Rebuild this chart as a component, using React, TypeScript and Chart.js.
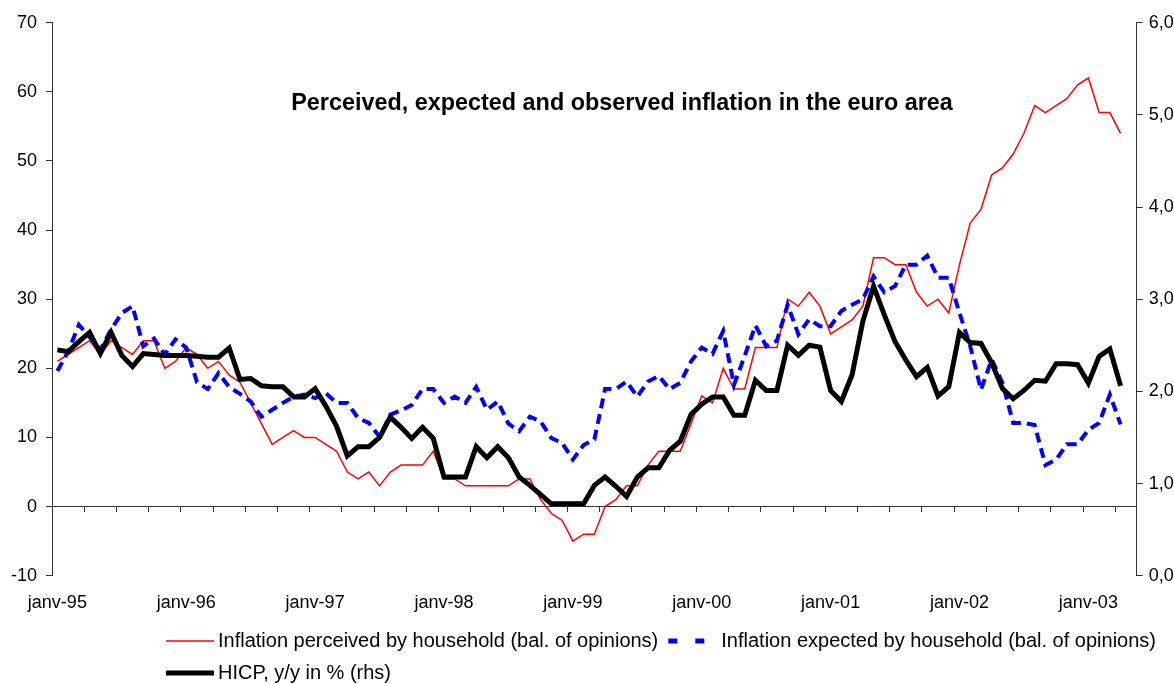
import React, { useEffect, useRef } from 'react';
import { Chart, registerables } from 'chart.js';

Chart.register(...registerables);

const MONTHS = ['janv', 'févr', 'mars', 'avr', 'mai', 'juin', 'juil', 'août', 'sept', 'oct', 'nov', 'déc'];
const FIRST_YEAR = 1995;
const N_CATEGORIES = 101;
const categories: string[] = Array.from(
  { length: N_CATEGORIES },
  (_, i) => `${MONTHS[i % 12]}-${String((FIRST_YEAR + Math.floor(i / 12)) % 100).padStart(2, '0')}`
);

// Inflation perceived by household (balance of opinions), left axis
const perceived = [
  21, 22, 23, 24, 22, 24, 23, 22, 24, 24, 20, 21,
  23, 22, 20, 21, 19, 18, 15, 12, 9, 10, 11, 10,
  10, 9, 8, 5, 4, 5, 3, 5, 6, 6, 6, 8,
  4, 4, 3, 3, 3, 3, 3, 4, 4, 1, -1, -2,
  -5, -4, -4, 0, 1, 3, 3, 6, 8, 8, 8, 12,
  16, 15, 20, 17, 17, 23, 23, 23, 30, 29, 31, 29,
  25, 26, 27, 29, 36, 36, 35, 35, 31, 29, 30, 28,
  35, 41, 43, 48, 49, 51, 54, 58, 57, 58, 59, 61,
  62, 57, 57, 54,
];

// Inflation expected by household (balance of opinions), left axis
const expected = [
  19.6, 22.4, 26.3, 24.5, 22.7, 25.6, 28.0, 29.0, 23.2, 24.3, 22.0, 24.2,
  23.0, 18.0, 17.0, 19.3, 17.3, 16.3, 15.2, 13.0, 14.0, 15.0, 15.9, 16.2,
  15.7, 16.4, 15.0, 15.0, 12.8, 12.1, 10.1, 13.3, 13.9, 14.7, 17.0, 17.0,
  15.0, 15.9, 15.0, 17.3, 14.0, 15.2, 12.0, 10.9, 13.0, 12.3, 9.9, 9.2,
  6.8, 8.9, 9.7, 17.0, 17.0, 18.1, 15.9, 18.1, 18.9, 17.0, 17.9, 21.0,
  23.0, 22.1, 25.4, 17.6, 21.8, 26.2, 23.2, 24.0, 29.2, 24.9, 27.1, 26.1,
  26.1, 28.3, 29.2, 30.0, 33.3, 31.0, 31.9, 35.0, 35.0, 36.3, 33.1, 33.1,
  28.0, 23.2, 16.9, 21.3, 17.9, 12.1, 12.1, 11.8, 6.0, 6.8, 9.0, 9.0,
  11.1, 12.1, 16.2, 11.9,
];

// HICP, y/y in % (right axis)
const hicp = [
  2.45, 2.43, 2.54, 2.64, 2.41, 2.64, 2.39, 2.27, 2.41, 2.40, 2.39, 2.39,
  2.39, 2.38, 2.37, 2.37, 2.47, 2.13, 2.14, 2.06, 2.05, 2.05, 1.94, 1.94,
  2.03, 1.84, 1.62, 1.30, 1.40, 1.40, 1.50, 1.72, 1.61, 1.49, 1.61, 1.49,
  1.07, 1.07, 1.07, 1.40, 1.28, 1.40, 1.28, 1.07, 0.98, 0.88, 0.78, 0.78,
  0.78, 0.78, 0.98, 1.07, 0.97, 0.86, 1.07, 1.17, 1.17, 1.36, 1.46, 1.75,
  1.86, 1.94, 1.94, 1.74, 1.74, 2.12, 2.01, 2.01, 2.50, 2.39, 2.50, 2.48,
  2.01, 1.89, 2.18, 2.76, 3.14, 2.83, 2.54, 2.34, 2.16, 2.26, 1.95, 2.05,
  2.64, 2.53, 2.52, 2.31, 2.03, 1.92, 2.01, 2.12, 2.11, 2.30, 2.30, 2.29,
  2.09, 2.38, 2.46, 2.06,
];

const seriesLabels = [
  'Inflation perceived by household (bal. of opinions)',
  'Inflation expected by household (bal. of opinions)',
  'HICP, y/y in % (rhs)',
];
const TITLE = 'Perceived, expected and observed inflation in the euro area';

const LEFT_MIN = -10;
const LEFT_MAX = 70;
const LEFT_STEP = 10;
const RIGHT_MIN = 0;
const RIGHT_MAX = 6;
const RIGHT_STEP = 1;
const LABEL_EVERY = 12;
const TICK_MARK_EVERY = 3;

const FONT = '"Liberation Sans", Arial, Helvetica, sans-serif';
const RED = '#ff0000';
const BLUE = '#0000ff';
const BLACK = '#000000';
const AXIS = '#333333';

const W = 1174;
const H = 684;
const AREA_LEFT = 52;
const AREA_RIGHT = 1136.7;
const AREA_TOP = 22.7;
const AREA_BOTTOM = 575.7;

const overlayPlugin = {
  id: 'overlay',
  afterDraw(chart: any) {
    const ctx: CanvasRenderingContext2D = chart.ctx;
    ctx.save();
    // title
    ctx.fillStyle = '#000';
    ctx.font = `bold 23.4px ${FONT}`;
    ctx.textAlign = 'center';
    ctx.textBaseline = 'middle';
    ctx.fillText(TITLE, 622, 104);

    // legend
    ctx.font = `20px ${FONT}`;
    ctx.textAlign = 'left';
    const row1 = 641;
    const row2 = 673;
    const sx0 = 166;
    const sx1 = 214;
    const tx = 218;
    ctx.lineCap = 'butt';
    ctx.strokeStyle = RED;
    ctx.lineWidth = 1.5;
    ctx.beginPath();
    ctx.moveTo(sx0, row1);
    ctx.lineTo(sx1, row1);
    ctx.stroke();
    ctx.fillStyle = '#000';
    ctx.fillText(seriesLabels[0], tx, row1);
    const w0 = ctx.measureText(seriesLabels[0]).width;
    const bx = tx + w0 + 10;
    ctx.fillStyle = BLUE;
    ctx.fillRect(bx, row1 - 2.5, 9, 5);
    ctx.fillRect(bx + 27, row1 - 2.5, 9, 5);
    ctx.fillStyle = '#000';
    ctx.fillText(seriesLabels[1], bx + 53, row1);

    ctx.strokeStyle = BLACK;
    ctx.lineWidth = 5;
    ctx.beginPath();
    ctx.moveTo(sx0, row2);
    ctx.lineTo(sx1, row2);
    ctx.stroke();
    ctx.fillText(seriesLabels[2], tx, row2);
    ctx.restore();
  },
};

export default function App() {
  const ref = useRef<HTMLCanvasElement | null>(null);

  useEffect(() => {
    if (!ref.current) return;
    const prevMargin = document.body.style.margin;
    document.body.style.margin = '0';
    const chart = new Chart(ref.current, {
      type: 'line',
      data: {
        labels: categories,
        datasets: [
          {
            label: seriesLabels[0],
            data: perceived,
            borderColor: RED,
            backgroundColor: RED,
            borderWidth: 1.5,
            pointRadius: 0,
            tension: 0,
            yAxisID: 'y',
            xAxisID: 'x',
            order: 2,
          },
          {
            label: seriesLabels[1],
            data: expected,
            borderColor: BLUE,
            backgroundColor: BLUE,
            borderWidth: 4,
            borderDash: [10, 6],
            pointRadius: 0,
            tension: 0,
            yAxisID: 'y',
            xAxisID: 'x',
            order: 1,
          },
          {
            label: seriesLabels[2],
            data: hicp,
            borderColor: BLACK,
            backgroundColor: BLACK,
            borderWidth: 5,
            pointRadius: 0,
            tension: 0,
            yAxisID: 'y1',
            xAxisID: 'x',
            order: 0,
          },
        ],
      },
      options: {
        responsive: false,
        animation: false,
        devicePixelRatio: 1,
        layout: { padding: { top: AREA_TOP, left: 0, right: 0, bottom: 0 } },
        plugins: {
          legend: { display: false },
          title: { display: false },
          tooltip: { enabled: false },
        },
        scales: {
          x: {
            type: 'category',
            position: 'bottom',
            offset: true,
            grid: { display: false, drawTicks: false },
            border: { display: false },
            ticks: {
              autoSkip: false,
              maxRotation: 0,
              minRotation: 0,
              padding: 17,
              color: '#000',
              font: { family: FONT, size: 18 },
              callback: (_v: any, i: number) => (i % LABEL_EVERY === 0 ? categories[i] : ''),
            },
            afterFit: (s: any) => {
              s.height = H - AREA_BOTTOM;
            },
          },
          xz: {
            type: 'category',
            position: { y: 0 } as any,
            offset: true,
            grid: {
              display: true,
              drawOnChartArea: false,
              drawTicks: true,
              tickLength: 5,
              offset: true,
              lineWidth: 1,
              color: (c: any) => (c.index % TICK_MARK_EVERY === 0 ? AXIS : 'rgba(0,0,0,0)'),
            },
            border: { display: true, color: AXIS, width: 1 },
            ticks: { display: false, autoSkip: false },
          },
          y: {
            type: 'linear',
            position: 'left',
            min: LEFT_MIN,
            max: LEFT_MAX,
            ticks: {
              stepSize: LEFT_STEP,
              padding: 9,
              color: '#000',
              font: { family: FONT, size: 18 },
            },
            grid: { drawOnChartArea: false, drawTicks: true, tickLength: 6, color: AXIS },
            border: { display: true, color: AXIS, width: 1 },
            afterFit: (s: any) => {
              s.width = AREA_LEFT;
            },
          },
          y1: {
            type: 'linear',
            position: 'right',
            min: RIGHT_MIN,
            max: RIGHT_MAX,
            ticks: {
              stepSize: RIGHT_STEP,
              padding: 6,
              color: '#000',
              font: { family: FONT, size: 18 },
              callback: (v: any) => Number(v).toFixed(1).replace('.', ','),
            },
            grid: { drawOnChartArea: false, drawTicks: true, tickLength: 6, color: AXIS },
            border: { display: true, color: AXIS, width: 1 },
            afterFit: (s: any) => {
              s.width = W - AREA_RIGHT;
            },
          },
        },
      } as any,
      plugins: [overlayPlugin],
    });
    return () => {
      chart.destroy();
      document.body.style.margin = prevMargin;
    };
  }, []);

  return (
    <div style={{ width: W, height: H }}>
      <canvas ref={ref} width={W} height={H} style={{ display: 'block', width: W, height: H }} />
    </div>
  );
}
